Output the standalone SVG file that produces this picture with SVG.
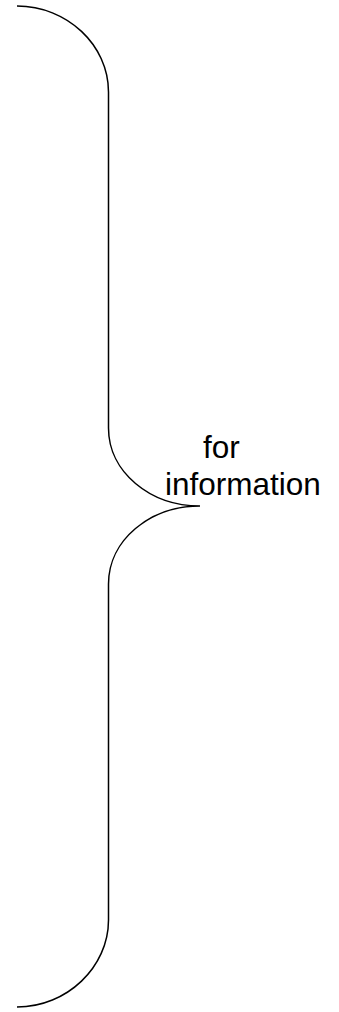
<svg xmlns="http://www.w3.org/2000/svg" width="339" height="1012" viewBox="0 0 339 1012">
<style>
.brace{fill:none;stroke:#000;stroke-width:1.5}
.lbl{font-family:"Liberation Sans",Arial,sans-serif;font-size:31.5px;fill:#000}
</style>
<rect width="339" height="1012" fill="#fff"/>
<g id="connectors">
<path class="brace" d="M17,6 C67,6 108.5,45 108.5,92 L108.5,428 C108.5,472 150,506 200,506 C150,506 108.5,540 108.5,584 L108.5,920 C108.5,967 67,1007 17,1007"/>
</g>
<g id="label">
<text class="lbl" x="203" y="458">for</text>
<text class="lbl" x="165" y="495">information</text>
</g>
</svg>
